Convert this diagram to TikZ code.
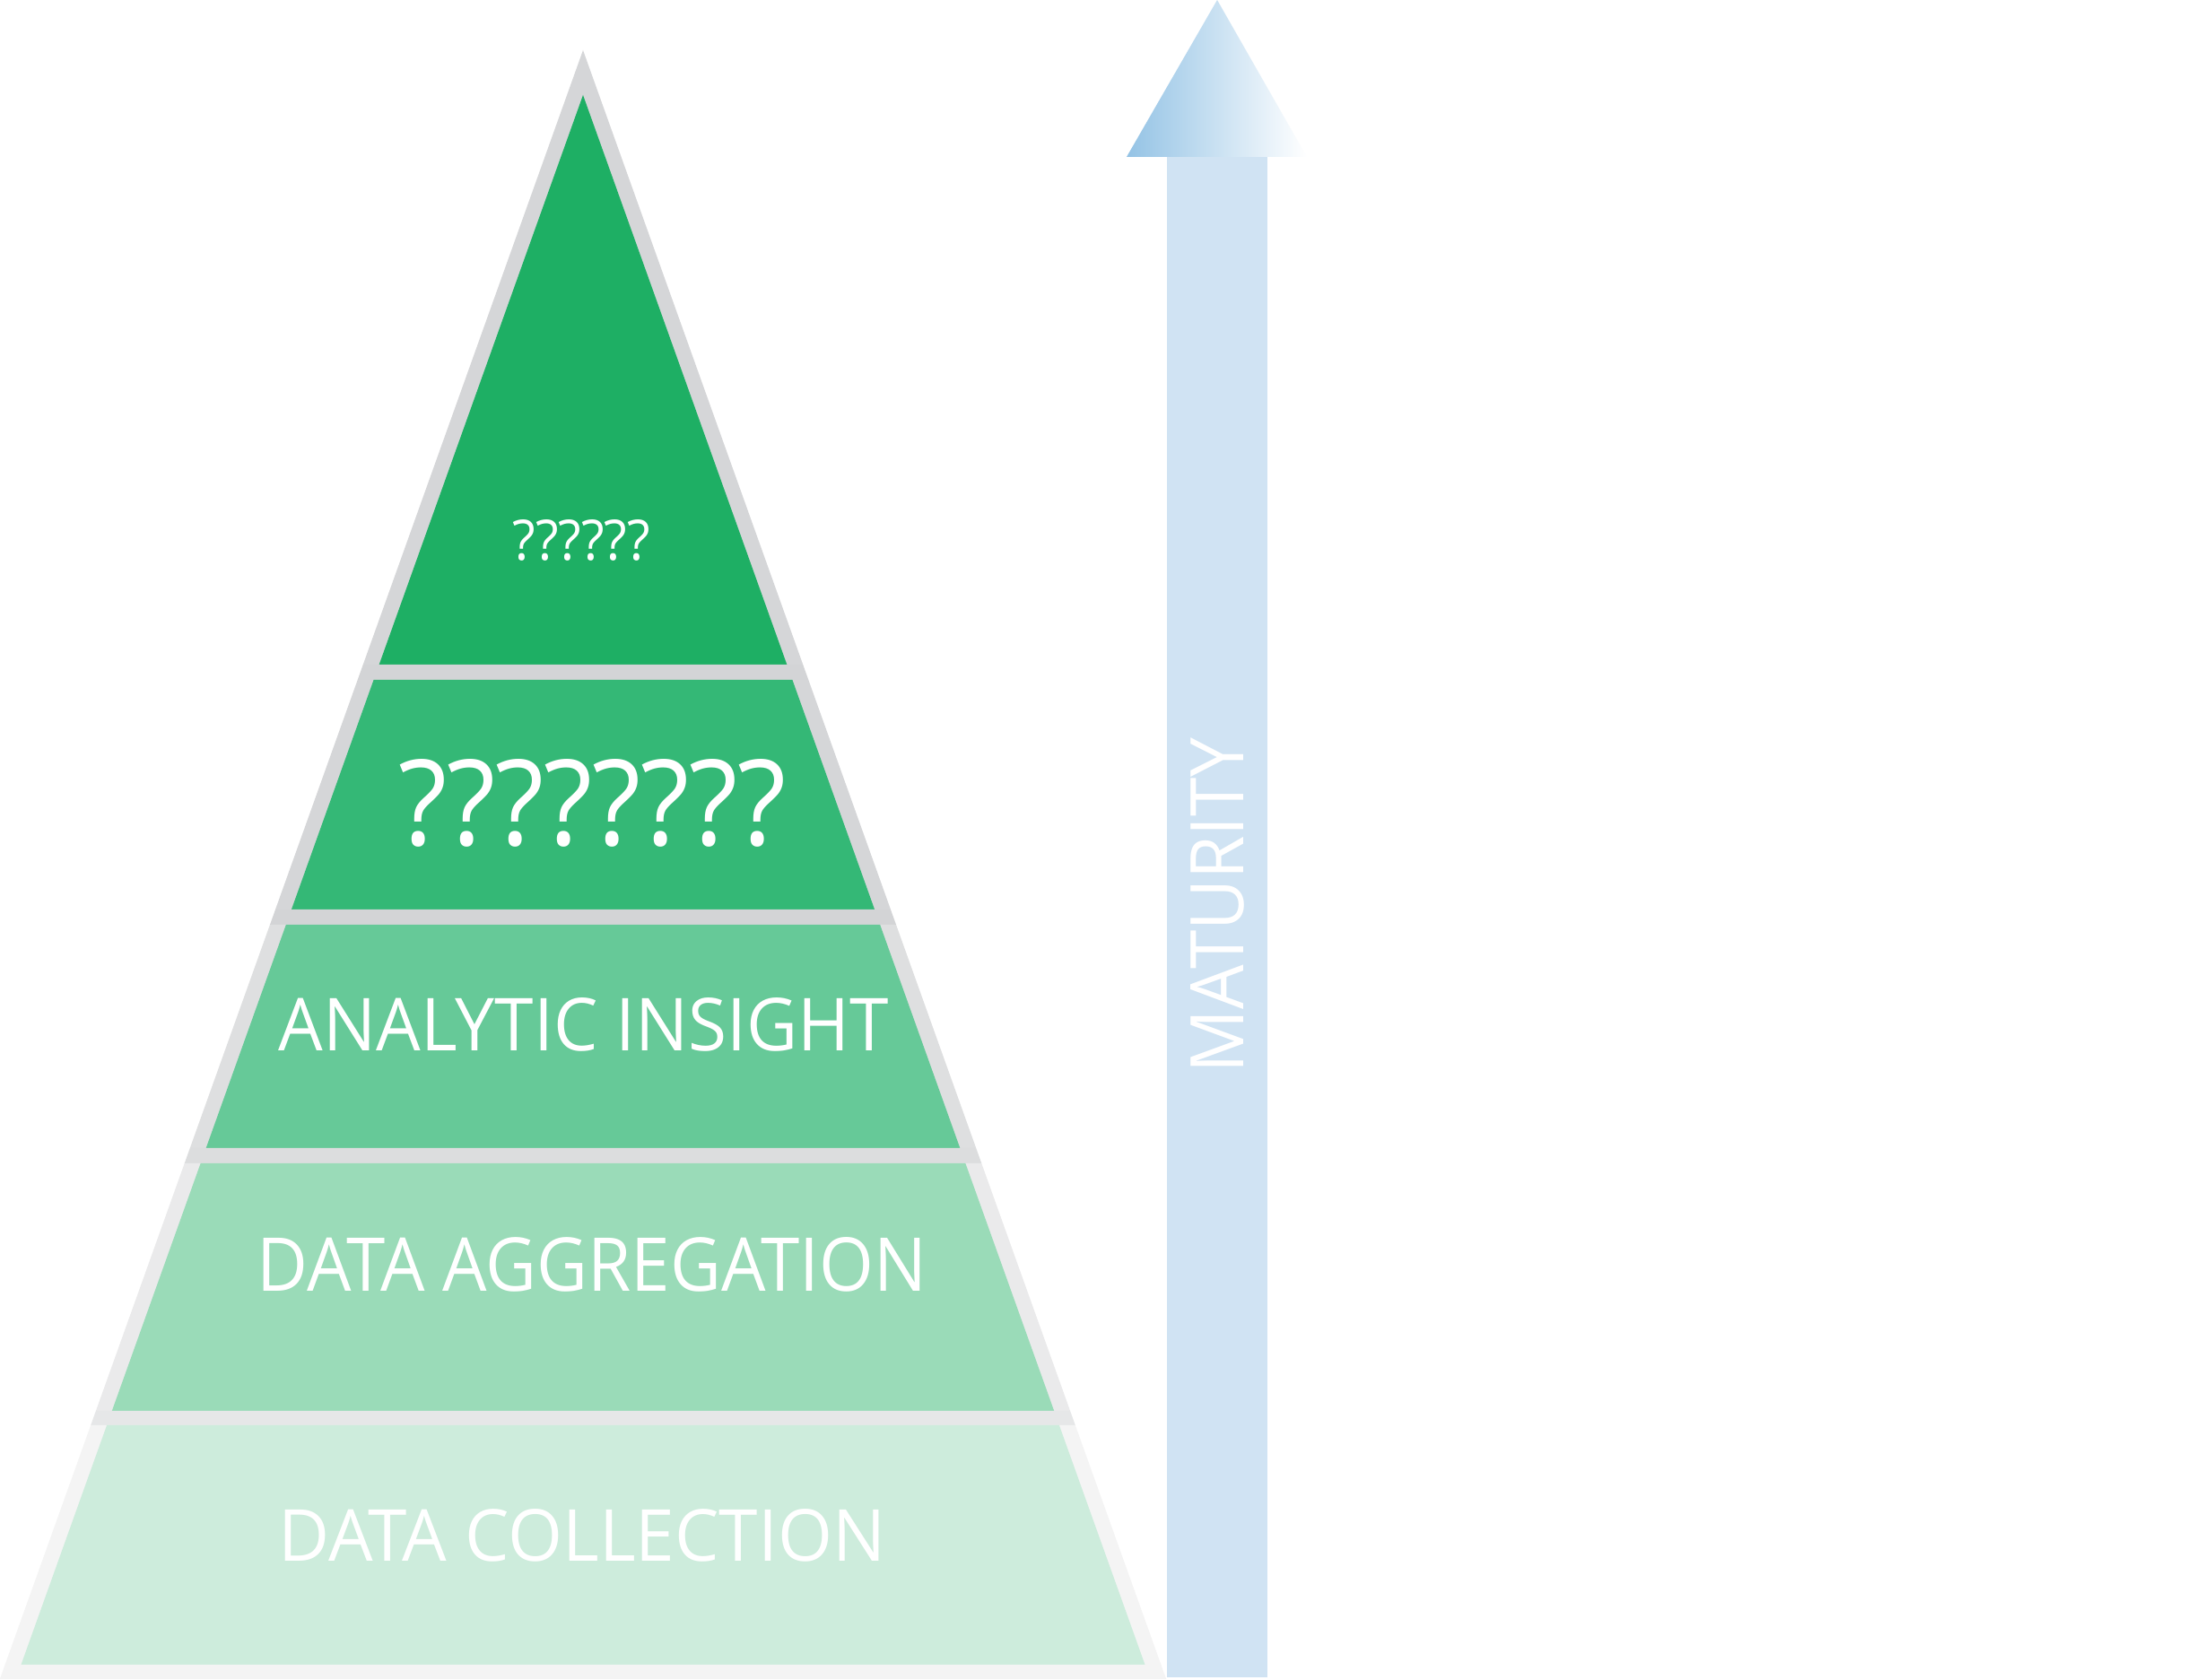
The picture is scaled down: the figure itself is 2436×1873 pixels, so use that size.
\documentclass[tikz,border=0pt]{standalone}
\usepackage{fontspec}
\setmainfont{Open Sans}
\usepackage{graphicx}
\definecolor{gA}{RGB}{30,175,100}
\definecolor{gB}{RGB}{52,184,118}
\definecolor{gC}{RGB}{102,201,152}
\definecolor{gD}{RGB}{154,219,184}
\definecolor{gE}{RGB}{205,236,220}
\definecolor{sAB}{RGB}{213,214,216}
\definecolor{sC}{RGB}{222,223,224}
\definecolor{sD}{RGB}{234,234,235}
\definecolor{sE}{RGB}{244,244,244}
\definecolor{bAB}{RGB}{211,212,214}
\definecolor{bC}{RGB}{220,221,222}
\definecolor{bD}{RGB}{230,231,232}
\definecolor{bE}{RGB}{244,244,244}
\definecolor{shaft}{RGB}{208,227,243}
\definecolor{headL}{RGB}{148,195,229}
\newlength{\pxu}
\setlength{\pxu}{0.1mm}
% #1 outer top y, #2 inner top y, #3 band bottom y, #4 bar bottom y, #5 side colour, #6 fill colour, #7 bar colour
\newcommand{\pyrtier}[7]{%
  \fill[#5] ({650-0.358*(#1-56)},#1) -- ({650+0.358*(#1-56)},#1) -- ({650+0.358*(#3-56)},#3) -- ({650-0.358*(#3-56)},#3) -- cycle;
  \fill[#6] ({650-0.358*(#2-106)},#2) -- ({650+0.358*(#2-106)},#2) -- ({650+0.358*(#3-106)},#3) -- ({650-0.358*(#3-106)},#3) -- cycle;
  \fill[#7] ({650-0.358*(#3-56)},#3) -- ({650+0.358*(#3-56)},#3) -- ({650+0.358*(#4-56)},#4) -- ({650-0.358*(#4-56)},#4) -- cycle;
}
\begin{document}
\begin{tikzpicture}[x=0.1mm,y=-0.1mm,
  lbl/.style={inner sep=0pt,outer sep=0pt,text=white}]
\useasboundingbox (0,0) rectangle (2436,1873);
\fill[white] (0,0) rectangle (2436,1873);

% pyramid tiers
\pyrtier{56}{106}{741}{758}{sAB}{gA}{bAB}
\pyrtier{758}{758}{1014}{1031}{sAB}{gB}{bAB}
\pyrtier{1031}{1031}{1280}{1297}{sC}{gC}{bC}
\pyrtier{1297}{1297}{1573}{1589}{sD}{gD}{bD}
\pyrtier{1589}{1589}{1856}{1872}{sE}{gE}{bE}

% labels
\node[lbl] (q6) at (648.5,602.5) {\resizebox{153\pxu}{45\pxu}{??????}};
\node[lbl] (q8) at (660.5,895) {\resizebox{433\pxu}{96\pxu}{????????}};
\node[lbl] (insight) at (651,1142.5) {\resizebox{680\pxu}{59\pxu}{ANALYTIC INSIGHT}};
\node[lbl] (aggr) at (660,1410) {\resizebox{746\pxu}{60\pxu}{DATA AGGREGATION}};
\node[lbl] (coll) at (649,1712) {\resizebox{676\pxu}{58\pxu}{DATA COLLECTION}};

% maturity arrow
\fill[shaft] (1301,175) rectangle (1413,1870);
\shade[left color=headL,right color=white] (1357,0) -- (1457,175) -- (1256,175) -- cycle;
\node[lbl,rotate=90] (mat) at (1357.5,1009.5) {\resizebox{373\pxu}{59\pxu}{MATURITY}};
\end{tikzpicture}
\end{document}
